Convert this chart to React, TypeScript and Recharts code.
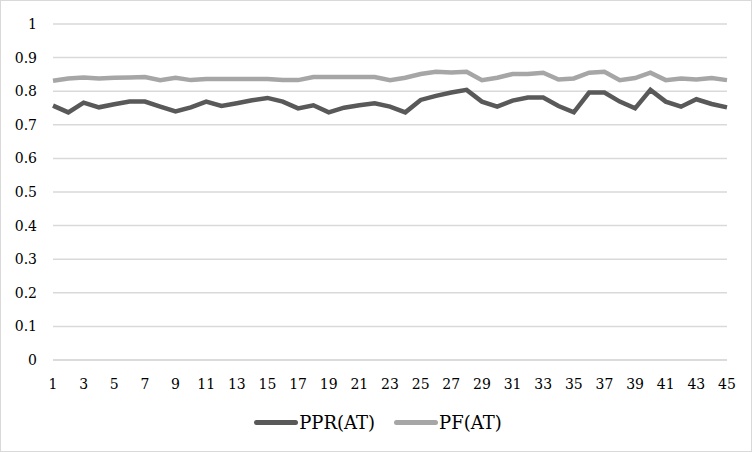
import { LineChart, Line, XAxis, YAxis, CartesianGrid } from "recharts";

// day index along the x axis
const days = [
  1, 2, 3, 4, 5, 6, 7, 8, 9, 10, 11, 12, 13, 14, 15, 16, 17, 18, 19, 20, 21, 22, 23,
  24, 25, 26, 27, 28, 29, 30, 31, 32, 33, 34, 35, 36, 37, 38, 39, 40, 41, 42, 43, 44, 45,
];

const pprAT = [
  0.757, 0.737, 0.766, 0.752, 0.761, 0.769, 0.769, 0.754, 0.74, 0.752, 0.769, 0.756,
  0.764, 0.773, 0.78, 0.769, 0.749, 0.758, 0.737, 0.751, 0.758, 0.764, 0.754, 0.737,
  0.774, 0.786, 0.796, 0.804, 0.769, 0.754, 0.772, 0.781, 0.781, 0.756, 0.737, 0.796,
  0.796, 0.769, 0.749, 0.804, 0.769, 0.754, 0.776, 0.762, 0.752,
];

const pfAT = [
  0.831, 0.838, 0.841, 0.838, 0.84, 0.841, 0.842, 0.833, 0.84, 0.833, 0.836, 0.836,
  0.836, 0.836, 0.836, 0.833, 0.833, 0.842, 0.842, 0.842, 0.842, 0.842, 0.833, 0.84,
  0.851, 0.858, 0.856, 0.858, 0.833, 0.84, 0.851, 0.851, 0.855, 0.835, 0.838, 0.855,
  0.858, 0.833, 0.839, 0.855, 0.833, 0.838, 0.835, 0.839, 0.833,
];

const yTicks = [0, 0.1, 0.2, 0.3, 0.4, 0.5, 0.6, 0.7, 0.8, 0.9, 1];

const DARK = "#595959";
const LIGHT = "#a6a6a6";
// Liberation Serif isn't picked up in the sandbox, DejaVu Serif is
const FONT = '"DejaVu Serif", serif';

const chartData = days.map((d, i) => ({ day: d, ppr: pprAT[i], pf: pfAT[i] }));

const tickStyle = { fontFamily: FONT, fontSize: 14, fill: "#000000" };

const LegendItem = ({ color, label }: any) => (
  <div style={{ display: "flex", alignItems: "center" }}>
    <span
      style={{
        display: "inline-block",
        width: 44,
        height: 5,
        borderRadius: 3,
        backgroundColor: color,
        marginRight: 1,
      }}
    />
    <span>{label}</span>
  </div>
);

export default function App() {
  return (
    <div
      style={{
        position: "absolute",
        left: 0,
        top: 0,
        width: 752,
        height: 452,
        background: "#ffffff",
      }}
    >
      <LineChart
        width={752}
        height={452}
        data={chartData}
        margin={{ top: 24, right: 25, bottom: 62, left: 0 }}
      >
        <CartesianGrid vertical={false} stroke="#d9d9d9" strokeWidth={1.5} />
        <XAxis
          dataKey="day"
          interval={1}
          axisLine={{ stroke: "#d9d9d9", strokeWidth: 1.5 }}
          tickLine={false}
          tickSize={0}
          tickMargin={19}
          tick={tickStyle}
          height={30}
        />
        <YAxis
          type="number"
          domain={[0, 1]}
          ticks={yTicks}
          width={53}
          axisLine={false}
          tickLine={false}
          tickSize={0}
          tickMargin={16}
          tick={tickStyle}
        />
        <Line
          type="linear"
          dataKey="ppr"
          name="PPR(AT)"
          stroke={DARK}
          strokeWidth={4.5}
          dot={false}
          isAnimationActive={false}
        />
        <Line
          type="linear"
          dataKey="pf"
          name="PF(AT)"
          stroke={LIGHT}
          strokeWidth={4.5}
          dot={false}
          isAnimationActive={false}
        />
      </LineChart>
      <div
        style={{
          position: "absolute",
          left: 0,
          top: 412,
          width: 752,
          display: "flex",
          justifyContent: "center",
          gap: 19,
          fontFamily: FONT,
          fontSize: 18,
          color: "#000000",
          paddingLeft: 4,
          boxSizing: "border-box",
        }}
      >
        <LegendItem color={DARK} label="PPR(AT)" />
        <LegendItem color={LIGHT} label="PF(AT)" />
      </div>
      <div
        style={{
          position: "absolute",
          inset: 0,
          border: "1px solid #d9d9d9",
          pointerEvents: "none",
        }}
      />
    </div>
  );
}
